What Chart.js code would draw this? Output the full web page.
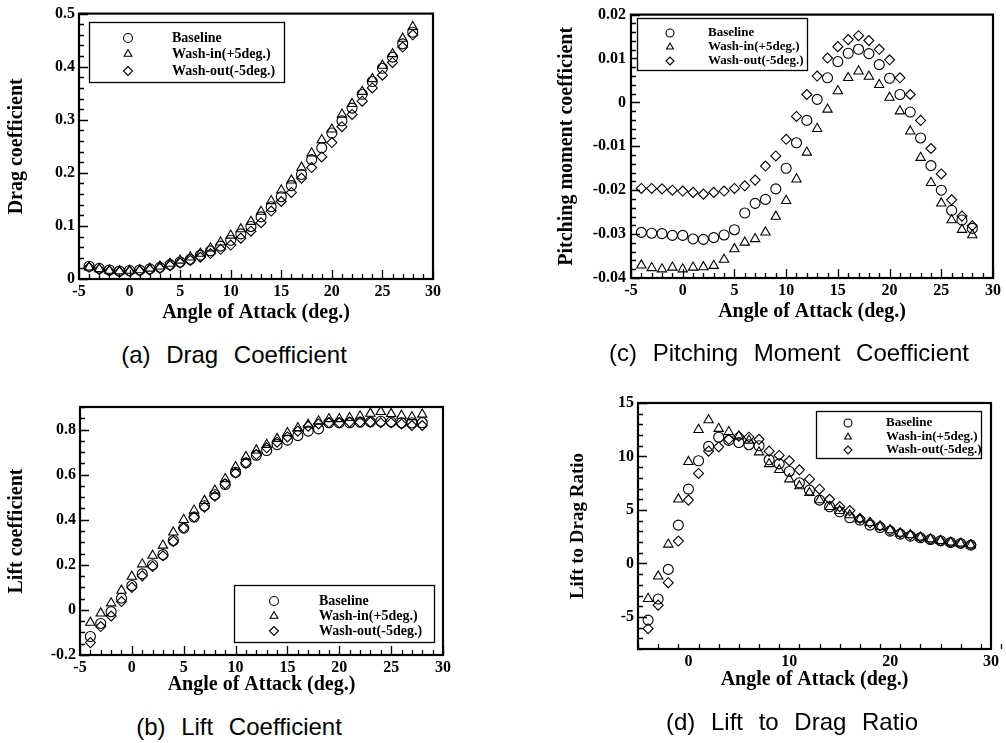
<!DOCTYPE html>
<html><head><meta charset="utf-8">
<script src="https://cdn.jsdelivr.net/npm/chart.js@4.4.1/dist/chart.umd.min.js"></script>
<style>
html,body{margin:0;padding:0;background:#fff;width:1006px;height:743px;overflow:hidden;position:relative}
canvas{position:absolute}
.cap{position:absolute;font-family:"Liberation Sans",Arial,sans-serif;font-size:24px;color:#000;white-space:nowrap;transform:translate(-50%,-50%);word-spacing:9px;line-height:1}
</style></head><body>
<canvas id="ca" width="503" height="340" style="left:0;top:0"></canvas>
<canvas id="cc" width="506" height="340" style="left:500px;top:0"></canvas>
<canvas id="cb" width="503" height="330" style="left:0;top:380px"></canvas>
<canvas id="cd" width="506" height="330" style="left:500px;top:380px"></canvas>
<div class="cap" style="left:234px;top:355px">(a) Drag Coefficient</div>
<div class="cap" style="left:789px;top:353px">(c) Pitching Moment Coefficient</div>
<div class="cap" style="left:239px;top:727px">(b) Lift Coefficient</div>
<div class="cap" style="left:792px;top:722px">(d) Lift to Drag Ratio</div>
<script>
const angleOfAttack = [-4,-3,-2,-1,0,1,2,3,4,5,6,7,8,9,10,11,12,13,14,15,16,17,18,19,20,21,22,23,24,25,26,27,28];
const seriesNames = ['Baseline','Wash-in(+5deg.)','Wash-out(-5deg.)'];

const cdBaseline = [0.024,0.020,0.017,0.015,0.016,0.017,0.019,0.022,0.027,0.032,0.037,0.045,0.053,0.062,0.073,0.085,0.099,0.117,0.136,0.155,0.176,0.197,0.225,0.247,0.275,0.298,0.322,0.348,0.372,0.397,0.418,0.443,0.465];
const cdWashIn   = [0.022,0.019,0.016,0.015,0.016,0.017,0.020,0.024,0.029,0.035,0.041,0.048,0.058,0.069,0.082,0.094,0.108,0.127,0.147,0.167,0.186,0.210,0.237,0.262,0.282,0.310,0.330,0.353,0.377,0.402,0.424,0.453,0.475];
const cdWashOut  = [0.022,0.018,0.015,0.013,0.014,0.015,0.017,0.020,0.025,0.030,0.035,0.041,0.048,0.056,0.064,0.077,0.090,0.106,0.128,0.146,0.163,0.190,0.210,0.230,0.257,0.287,0.310,0.335,0.360,0.384,0.408,0.437,0.460];

const clBaseline = [-0.118,-0.060,-0.008,0.052,0.108,0.160,0.200,0.245,0.308,0.363,0.412,0.462,0.511,0.556,0.610,0.652,0.686,0.707,0.733,0.753,0.773,0.793,0.803,0.830,0.830,0.830,0.833,0.834,0.837,0.834,0.830,0.830,0.830];
const clWashIn   = [-0.056,-0.015,0.030,0.086,0.148,0.203,0.241,0.286,0.344,0.400,0.441,0.484,0.530,0.581,0.634,0.679,0.708,0.733,0.759,0.785,0.807,0.822,0.837,0.847,0.847,0.852,0.859,0.871,0.879,0.870,0.862,0.856,0.867];
const clWashOut  = [-0.145,-0.074,-0.027,0.037,0.100,0.151,0.193,0.240,0.304,0.363,0.412,0.456,0.504,0.559,0.607,0.652,0.689,0.719,0.744,0.767,0.793,0.815,0.825,0.830,0.830,0.833,0.833,0.833,0.830,0.830,0.825,0.818,0.818];

const cmBaseline = [-0.0296,-0.0298,-0.0299,-0.0303,-0.0303,-0.0311,-0.0312,-0.0308,-0.0302,-0.0290,-0.0252,-0.0230,-0.0221,-0.0197,-0.0150,-0.0092,-0.0041,0.0007,0.0056,0.0093,0.0112,0.0121,0.0111,0.0086,0.0055,0.0018,-0.0022,-0.0081,-0.0144,-0.0200,-0.0246,-0.0268,-0.0287];
const cmWashIn   = [-0.0371,-0.0377,-0.0380,-0.0376,-0.0380,-0.0376,-0.0375,-0.0372,-0.0358,-0.0334,-0.0319,-0.0311,-0.0296,-0.0260,-0.0224,-0.0175,-0.0114,-0.0060,-0.0016,0.0026,0.0056,0.0071,0.0059,0.0040,0.0011,-0.0020,-0.0066,-0.0126,-0.0183,-0.0230,-0.0268,-0.0290,-0.0302];
const cmWashOut  = [-0.0196,-0.0196,-0.0197,-0.0200,-0.0202,-0.0205,-0.0209,-0.0205,-0.0202,-0.0196,-0.0190,-0.0177,-0.0145,-0.0122,-0.0084,-0.0032,0.0018,0.0060,0.0101,0.0127,0.0143,0.0152,0.0141,0.0121,0.0097,0.0056,0.0018,-0.0041,-0.0105,-0.0163,-0.0222,-0.0259,-0.0281];

const ldBaseline = [-5.3,-3.33,-0.56,3.58,6.95,9.6,10.94,11.8,11.5,11.3,11.1,11.0,9.69,9.31,8.6,7.54,6.85,5.92,5.3,4.83,4.27,4.05,3.58,3.36,3.02,2.74,2.55,2.4,2.24,2.12,1.96,1.87,1.71];
const ldWashIn   = [-3.3,-1.2,1.78,6.0,9.5,12.5,13.4,12.6,12.3,11.9,11.5,10.4,9.3,8.75,7.88,7.23,6.6,5.92,5.3,4.92,4.52,4.14,3.8,3.43,3.12,2.8,2.65,2.43,2.27,2.12,1.96,1.87,1.71];
const ldWashOut  = [-6.1,-3.9,-1.8,2.09,5.92,8.41,10.5,10.9,11.6,11.9,11.8,11.6,10.5,10.1,9.6,8.75,7.88,6.94,6.0,5.31,4.94,4.2,3.8,3.5,3.1,2.85,2.65,2.45,2.27,2.1,1.98,1.87,1.75];

const serif = "'Liberation Serif','Times New Roman',serif";
const styles = ['circle','triangle','rectRot'];
const radii = [5,5.4,5];

function fmt(v){ return String(parseFloat(Number(v).toFixed(4))); }

Chart.register({
  id:'frameTicks',
  afterDraw(chart, args, o){
    const ctx = chart.ctx, a = chart.chartArea, xs = chart.scales.x, ys = chart.scales.y;
    ctx.save();
    ctx.strokeStyle = '#000';
    ctx.lineWidth = 1.3;
    const nx = Math.round((xs.max - xs.min)/o.xMinor);
    ctx.beginPath();
    for (let i=0;i<=nx;i++){
      const v = xs.min + i*o.xMinor;
      const major = Math.abs(v/o.xMajor - Math.round(v/o.xMajor)) < 1e-6;
      const p = Math.round(xs.getPixelForValue(v)) + 0.5;
      ctx.moveTo(p, a.bottom); ctx.lineTo(p, a.bottom - (major ? 9 : 5));
    }
    const ny = Math.round((ys.max - ys.min)/o.yMinor);
    for (let i=0;i<=ny;i++){
      const v = ys.min + i*o.yMinor;
      const major = Math.abs(v/o.yMajor - Math.round(v/o.yMajor)) < 1e-6;
      const p = Math.round(ys.getPixelForValue(v)) + 0.5;
      ctx.moveTo(a.left, p); ctx.lineTo(a.left + (major ? 9 : 5), p);
    }
    ctx.stroke();
    ctx.lineWidth = 2.2;
    ctx.strokeRect(a.left, a.top, a.right - a.left, a.bottom - a.top);
    ctx.restore();
  }
});

Chart.register({
  id:'boxLegend',
  afterDraw(chart, args, o){
    const ctx = chart.ctx;
    ctx.save();
    ctx.fillStyle = '#fff';
    ctx.fillRect(o.x, o.y, o.w, o.h);
    ctx.strokeStyle = '#000';
    ctx.lineWidth = 1.3;
    ctx.strokeRect(o.x + 0.5, o.y + 0.5, o.w, o.h);
    chart.data.datasets.forEach((ds, i) => {
      ctx.lineWidth = 1.1;
      ctx.strokeStyle = '#000';
      ctx.fillStyle = 'rgba(0,0,0,0)';
      Chart.helpers.drawPoint(ctx, {pointStyle: ds.pointStyle, radius: o.r, rotation: 0, borderWidth: 1.1}, o.symX, o.rows[i]);
      ctx.fillStyle = '#000';
      ctx.font = 'bold ' + o.size + 'px ' + serif;
      ctx.textBaseline = 'middle';
      ctx.textAlign = 'left';
      ctx.fillText(ds.label, o.textX, o.rows[i]);
    });
    ctx.restore();
  }
});

function makeDatasets(list){
  return list.map((arr, k) => ({
    label: seriesNames[k],
    data: angleOfAttack.map((a, i) => ({x: a, y: arr[i]})),
    pointStyle: styles[k],
    pointRadius: radii[k],
    pointBorderWidth: 1.1,
    borderColor: '#000',
    backgroundColor: 'rgba(0,0,0,0)',
    pointBackgroundColor: 'rgba(0,0,0,0)',
    pointBorderColor: '#000',
    showLine: false
  }));
}

function panel(id, series, p){
  new Chart(document.getElementById(id), {
    type: 'scatter',
    data: { datasets: makeDatasets(series) },
    options: {
      responsive: false, animation: false, events: [],
      layout: { padding: { top: p.padTop, right: p.padRight, left: 0, bottom: 0 } },
      plugins: {
        legend: { display: false }, tooltip: { enabled: false },
        frameTicks: p.ticks,
        boxLegend: p.legend
      },
      scales: {
        x: {
          type: 'linear', position: 'bottom', min: p.xMin, max: p.xMax,
          grid: { display: false, drawTicks: false }, border: { display: false },
          ticks: { stepSize: p.xStep, includeBounds: false, autoSkip: false, maxRotation: 0, padding: p.xTickPad,
                   color: '#000', font: { family: serif, size: 16, weight: 'bold' }, callback: fmt },
          title: { display: true, text: 'Angle of Attack (deg.)', color: '#000',
                   font: { family: serif, size: 20, weight: 'bold' }, padding: { top: 0, bottom: p.xTitlePad } },
          afterFit: s => { s.height = p.xH; }
        },
        y: {
          type: 'linear', position: 'left', min: p.yMin, max: p.yMax,
          grid: { display: false, drawTicks: false }, border: { display: false },
          ticks: { stepSize: p.yStep, includeBounds: false, autoSkip: false, padding: p.yTickPad,
                   color: '#000', font: { family: serif, size: 16, weight: 'bold' }, callback: fmt },
          title: { display: true, text: p.yTitle, color: '#000',
                   font: { family: serif, size: p.yTitleSize || 20, weight: 'bold' }, padding: { top: p.yTitlePad, bottom: 0 } },
          afterFit: s => { s.width = p.yW; }
        }
      }
    }
  });
}

panel('ca', [cdBaseline, cdWashIn, cdWashOut], {
  padTop: 13, padRight: 70, xH: 61, yW: 79,
  xMin: -5, xMax: 30, xStep: 5, yMin: 0, yMax: 0.5, yStep: 0.1,
  xTickPad: 3, yTickPad: 4, xTitlePad: 15, yTitlePad: 5,
  yTitle: 'Drag coefficient',
  ticks: { xMinor: 1, xMajor: 5, yMinor: 0.02, yMajor: 0.1 },
  legend: { x: 89, y: 22, w: 195, h: 60, symX: 128, textX: 172, rows: [38, 54, 71], size: 14, r: 4.5 }
});

panel('cc', [cmBaseline, cmWashIn, cmWashOut], {
  padTop: 14, padRight: 13, xH: 62, yW: 131,
  xMin: -5, xMax: 30, xStep: 5, yMin: -0.04, yMax: 0.02, yStep: 0.01,
  xTickPad: 3, yTickPad: 5, xTitlePad: 16, yTitlePad: 55,
  yTitle: 'Pitching moment coefficient',
  ticks: { xMinor: 1, xMajor: 5, yMinor: 0.002, yMajor: 0.01 },
  legend: { x: 137, y: 18, w: 170, h: 52, symX: 170, textX: 208, rows: [33, 47, 61], size: 13, r: 4 }
});

panel('cb', [clBaseline, clWashIn, clWashOut], {
  padTop: 27, padRight: 60, xH: 55, yW: 80,
  xMin: -5, xMax: 30, xStep: 5, yMin: -0.2, yMax: 0.9, yStep: 0.2,
  xTickPad: 3, yTickPad: 4, xTitlePad: 13, yTitlePad: 5,
  yTitle: 'Lift coefficient',
  ticks: { xMinor: 1, xMajor: 5, yMinor: 0.05, yMajor: 0.2 },
  legend: { x: 234, y: 205, w: 200, h: 57, symX: 274, textX: 319, rows: [221, 236, 251], size: 14, r: 4.5 }
});

panel('cd', [ldBaseline, ldWashIn, ldWashOut], {
  padTop: 23, padRight: 15, xH: 61, yW: 138,
  xMin: -5, xMax: 30, xStep: 10, yMin: -8, yMax: 15, yStep: 5,
  xTickPad: 3, yTickPad: 4, xTitlePad: 18, yTitlePad: 67, yTitleSize: 19,
  yTitle: 'Lift to Drag Ratio',
  ticks: { xMinor: 2, xMajor: 10, yMinor: 1, yMajor: 5 },
  legend: { x: 316, y: 31, w: 165, h: 47, symX: 348, textX: 386, rows: [43, 57, 70], size: 13, r: 4 }
});
</script>
</body></html>
